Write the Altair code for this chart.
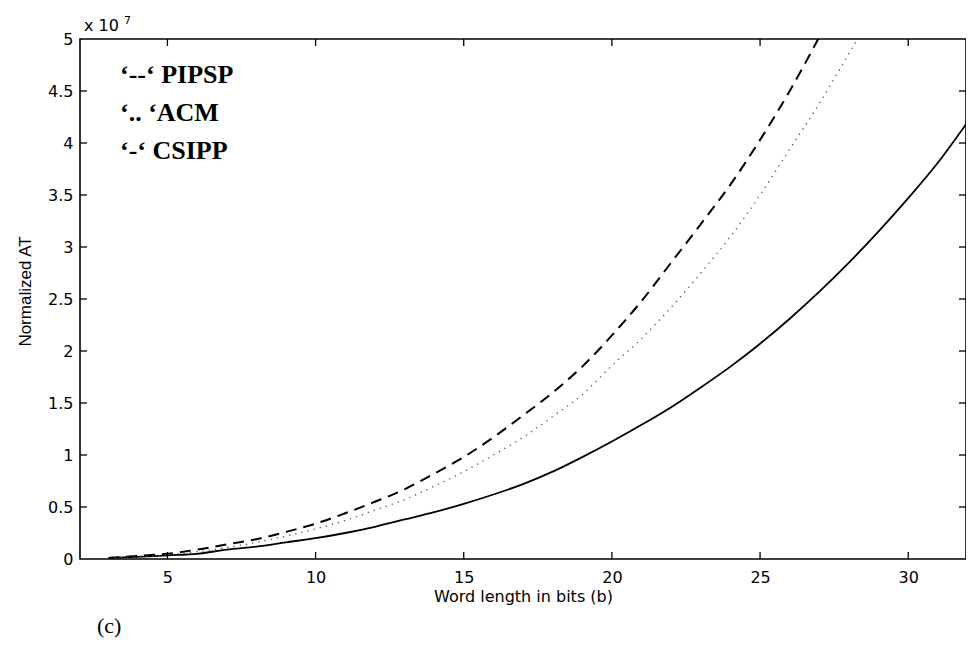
import altair as alt
import pandas as pd

# Word length in bits (b)
bits = list(range(3, 33))
# Normalized AT, in units of 1e7
csipp = [0.01, 0.02, 0.035, 0.05, 0.09, 0.12, 0.16, 0.20, 0.25, 0.31,
         0.38, 0.45, 0.53, 0.62, 0.72, 0.84, 0.98, 1.13, 1.29, 1.46,
         1.65, 1.85, 2.07, 2.31, 2.57, 2.85, 3.15, 3.47, 3.81, 4.2]
pipsp_bits = list(range(3, 28))
pipsp = [0.01, 0.03, 0.05, 0.09, 0.14, 0.19, 0.26, 0.34, 0.44, 0.55,
         0.67, 0.82, 0.98, 1.17, 1.38, 1.60, 1.85, 2.15, 2.48, 2.85,
         3.22, 3.60, 4.03, 4.50, 5.02]
acm_bits = list(range(3, 30))
acm = [0.01, 0.02, 0.04, 0.07, 0.11, 0.16, 0.22, 0.29, 0.37, 0.47,
       0.57, 0.70, 0.84, 1.00, 1.17, 1.37, 1.58, 1.86, 2.12, 2.42,
       2.75, 3.10, 3.50, 3.94, 4.38, 4.86, 5.35]

x_ticks = [5, 10, 15, 20, 25, 30]
y_ticks = [0, 0.5, 1, 1.5, 2, 2.5, 3, 3.5, 4, 4.5, 5]
legend_rows = ["‘--‘  PIPSP", "‘.. ‘ACM", "‘-‘  CSIPP"]
x_title = "Word length in bits (b)"
y_title = "Normalized AT"
exp_base = "x 10"
exp_power = "7"
panel_label = "(c)"

W, H = 886, 520

df_c = pd.DataFrame({"b": bits, "v": csipp})
df_p = pd.DataFrame({"b": pipsp_bits, "v": pipsp})
df_a = pd.DataFrame({"b": acm_bits, "v": acm})

xs = alt.Scale(domain=[2.05, 31.95], nice=False, zero=False)
ys = alt.Scale(domain=[0, 5], nice=False)

xaxis = alt.Axis(values=x_ticks, title=x_title, grid=False, tickSize=0, domain=False,
                 labelFont="DejaVu Sans", labelFontSize=16, labelColor="black",
                 labelPadding=10, titleFont="DejaVu Sans", titleFontSize=16,
                 titleFontWeight="normal", titleColor="black", titlePadding=3)
yaxis = alt.Axis(values=y_ticks, title=y_title, grid=False, tickSize=0, domain=False,
                 labelExpr="datum.value", labelFont="DejaVu Sans", labelFontSize=16,
                 labelColor="black", labelPadding=7, titleFont="Liberation Sans",
                 titleFontSize=17, titleFontWeight="normal", titleColor="black",
                 titleX=-55, titleY=252, titleBaseline="middle")

base_c = alt.Chart(df_c).mark_line(color="black", strokeWidth=1.8, clip=True,
                                   interpolate="monotone").encode(
    x=alt.X("b:Q", scale=xs, axis=xaxis),
    y=alt.Y("v:Q", scale=ys, axis=yaxis),
)
line_p = alt.Chart(df_p).mark_line(color="black", strokeWidth=2, strokeDash=[11, 7], clip=True,
                                   interpolate="monotone").encode(
    x=alt.X("b:Q", scale=xs), y=alt.Y("v:Q", scale=ys))
line_a = alt.Chart(df_a).mark_line(color="#555555", strokeWidth=1.3, strokeDash=[1.3, 5], clip=True,
                                   interpolate="monotone").encode(
    x=alt.X("b:Q", scale=xs), y=alt.Y("v:Q", scale=ys))

dfx = pd.DataFrame({"t": x_ticks})
dfy = pd.DataFrame({"t": y_ticks[1:-1]})
tk = dict(color="black", strokeWidth=1.3)
tick_bottom = alt.Chart(dfx).mark_rule(**tk).encode(
    x=alt.X("t:Q", scale=xs), y=alt.value(H), y2=alt.value(H - 7))
tick_top = alt.Chart(dfx).mark_rule(**tk).encode(
    x=alt.X("t:Q", scale=xs), y=alt.value(0), y2=alt.value(7))
tick_left = alt.Chart(dfy).mark_rule(**tk).encode(
    y=alt.Y("t:Q", scale=ys), x=alt.value(0), x2=alt.value(7))
tick_right = alt.Chart(dfy).mark_rule(**tk).encode(
    y=alt.Y("t:Q", scale=ys), x=alt.value(W), x2=alt.value(W - 7))

df_leg = pd.DataFrame({"txt": legend_rows, "yy": [44, 82, 120]})
legend = alt.Chart(df_leg).mark_text(
    font="Liberation Serif", fontWeight="bold", fontSize=26, align="left",
    baseline="alphabetic", color="black").encode(
    text="txt:N", x=alt.value(40), y=alt.Y("yy:Q", scale=None))

t_base = alt.Chart(pd.DataFrame({"s": [exp_base]})).mark_text(
    font="DejaVu Sans", fontSize=16, align="left", baseline="alphabetic", color="black"
).encode(text="s:N", x=alt.value(4), y=alt.value(-8))
t_pow = alt.Chart(pd.DataFrame({"s": [exp_power]})).mark_text(
    font="DejaVu Sans", fontSize=11, align="left", baseline="alphabetic", color="black"
).encode(text="s:N", x=alt.value(44), y=alt.value(-15))
t_panel = alt.Chart(pd.DataFrame({"s": [panel_label]})).mark_text(
    font="Liberation Serif", fontSize=22, align="left", baseline="middle", color="black"
).encode(text="s:N", x=alt.value(17), y=alt.value(587))

chart = alt.layer(
    base_c, line_p, line_a, tick_bottom, tick_top, tick_left, tick_right,
    legend, t_base, t_pow, t_panel
).properties(
    width=W, height=H,
    autosize=alt.AutoSizeParams(type="none"),
    padding={"left": 72, "top": 31, "right": 0, "bottom": 80},
    background="white",
).configure_view(stroke="black", strokeWidth=1.6)

chart.save("out.html", embed_options={"renderer": "svg", "actions": False})
